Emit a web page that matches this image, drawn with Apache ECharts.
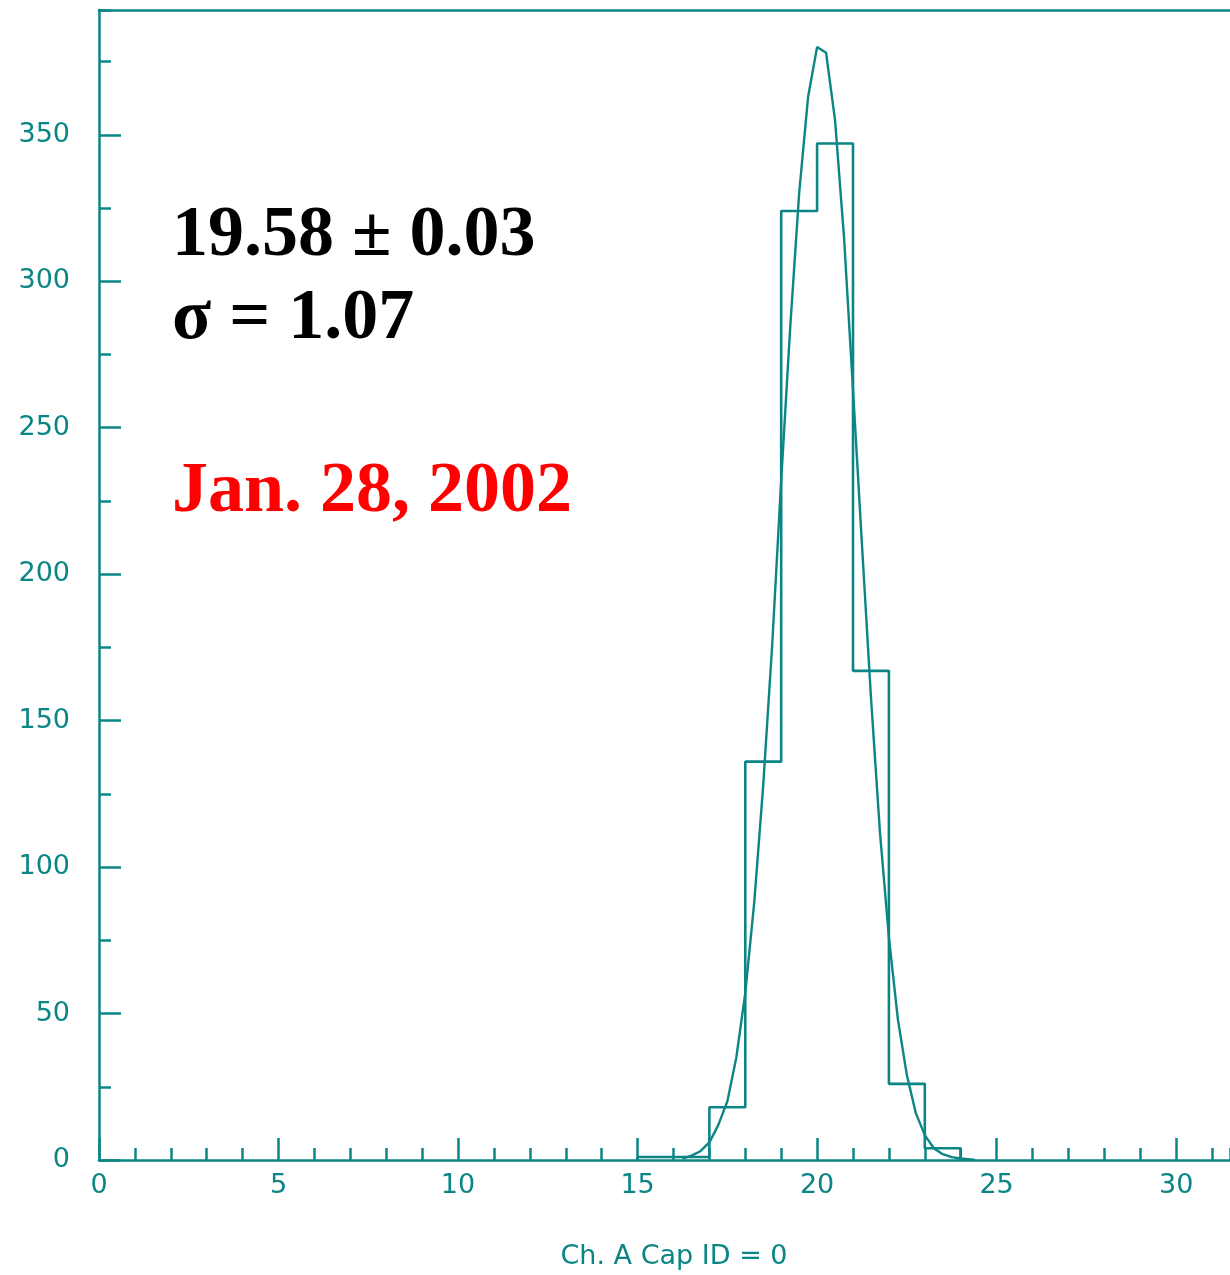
<!DOCTYPE html>
<html>
<head>
<meta charset="utf-8">
<script src="https://cdn.jsdelivr.net/npm/echarts@6/dist/echarts.min.js"></script>
<style>
  html, body { margin: 0; padding: 0; background: #ffffff; }
  #chart { width: 1230px; height: 1275px; }
</style>
</head>
<body>
<div id="chart"></div>
<script>
// Histogram bins (unit width), left edges and counts
const binEdgeStart = 15;
const binCounts = [1, 1, 18, 136, 324, 347, 167, 26, 4];

// Fitted curve, points
const curveX = [16.25, 16.5, 16.75, 17.0, 17.25, 17.5, 17.75, 18.0, 18.25, 18.5, 18.75, 19.0, 19.25, 19.5, 19.75, 20.0, 20.25, 20.5, 20.75, 21.0, 21.25, 21.5, 21.75, 22.0, 22.25, 22.5, 22.75, 23.0, 23.25, 23.5, 23.75, 24.0, 24.4];
const curveY = [0.5, 1.5, 3, 6, 12, 20, 35, 57, 88, 128, 176, 232, 284, 330, 363, 380, 378, 355, 315, 263, 210, 158, 112, 76, 48, 29, 16, 8.5, 4, 2, 1, 0.5, 0];

// Axis ranges and tick labels
const xMin = 0, xMax = 31.5, xMajor = 5, xMinor = 1;
const yMin = 0, yMax = 392.6, yMajor = 50, yMinor = 25;
const xTickLabels = ['0', '5', '10', '15', '20', '25', '30'];
const yTickLabels = ['0', '50', '100', '150', '200', '250', '300', '350'];

const xTitle = 'Ch. A Cap ID = 0';
const noteMean = '19.58 \u00b1 0.03';
const noteSigma = '\u03c3 = 1.07';
const noteDate = 'Jan. 28, 2002';

const TEAL = '#0c8585';

// step outline of histogram
const histPts = [];
histPts.push([binEdgeStart, 0]);
binCounts.forEach((c, i) => {
  histPts.push([binEdgeStart + i, c]);
  histPts.push([binEdgeStart + i + 1, c]);
});
histPts.push([binEdgeStart + binCounts.length, 0]);

const curvePts = curveX.map((x, i) => [x, curveY[i]]);

const labelFont = { color: TEAL, fontFamily: 'DejaVu Sans', fontSize: 27 };

const chart = echarts.init(document.getElementById('chart'), null, { renderer: 'canvas' });
chart.setOption({
  animation: false,
  backgroundColor: '#ffffff',
  grid: { left: 99, top: 10, right: 0, bottom: 115, containLabel: false },
  xAxis: [
    {
      type: 'value', min: xMin, max: xMax, interval: xMajor, position: 'bottom',
      axisLine: { show: true, onZero: false, lineStyle: { color: TEAL, width: 2.5 } },
      axisTick: { show: true, inside: true, length: 22, lineStyle: { color: TEAL, width: 2.5 } },
      axisLabel: Object.assign({ margin: 12, showMaxLabel: false,
        formatter: v => (xTickLabels.indexOf(String(v)) >= 0 ? String(v) : '') }, labelFont),
      splitLine: { show: false }
    },
    {
      type: 'value', min: xMin, max: xMax, interval: xMinor, position: 'bottom',
      axisLine: { show: false, onZero: false },
      axisTick: { show: true, inside: true, length: 12, lineStyle: { color: TEAL, width: 2.5 } },
      axisLabel: { show: false },
      splitLine: { show: false }
    },
    {
      type: 'value', min: xMin, max: xMax, position: 'top',
      axisLine: { show: true, onZero: false, lineStyle: { color: TEAL, width: 2.5 } },
      axisTick: { show: false }, axisLabel: { show: false }, splitLine: { show: false }
    }
  ],
  yAxis: [
    {
      type: 'value', min: yMin, max: yMax, interval: yMajor, position: 'left',
      axisLine: { show: true, onZero: false, lineStyle: { color: TEAL, width: 2.5 } },
      axisTick: { show: true, inside: true, length: 22, lineStyle: { color: TEAL, width: 2.5 } },
      axisLabel: Object.assign({ margin: 29, showMaxLabel: false,
        formatter: v => (yTickLabels.indexOf(String(v)) >= 0 ? String(v) : '') }, labelFont),
      splitLine: { show: false }
    },
    {
      type: 'value', min: yMin, max: yMax, interval: yMinor, position: 'left',
      axisLine: { show: false, onZero: false },
      axisTick: { show: true, inside: true, length: 12, lineStyle: { color: TEAL, width: 2.5 } },
      axisLabel: { show: false },
      splitLine: { show: false }
    }
  ],
  series: [
    {
      type: 'line', xAxisIndex: 0, yAxisIndex: 0, data: histPts,
      showSymbol: false, symbol: 'none',
      lineStyle: { color: TEAL, width: 2.6 }
    },
    {
      type: 'line', xAxisIndex: 0, yAxisIndex: 0, data: curvePts,
      showSymbol: false, symbol: 'none', smooth: false,
      lineStyle: { color: TEAL, width: 2.4 }
    }
  ],
  graphic: [
    { type: 'text', left: 172, top: 200, style: { text: noteMean, fill: '#000000', font: 'bold 72px "Liberation Serif", "Times New Roman", serif' } },
    { type: 'text', left: 172, top: 283, style: { text: noteSigma, fill: '#000000', font: 'bold 72px "Liberation Serif", "Times New Roman", serif' } },
    { type: 'text', left: 172, top: 456, style: { text: noteDate, fill: '#ff0000', font: 'bold 72px "Liberation Serif", "Times New Roman", serif' } },
    { type: 'text', x: 674, y: 1257, style: { text: xTitle, fill: TEAL, font: '27px "DejaVu Sans"', textAlign: 'center', textVerticalAlign: 'middle' } }
  ]
});
</script>
</body>
</html>
